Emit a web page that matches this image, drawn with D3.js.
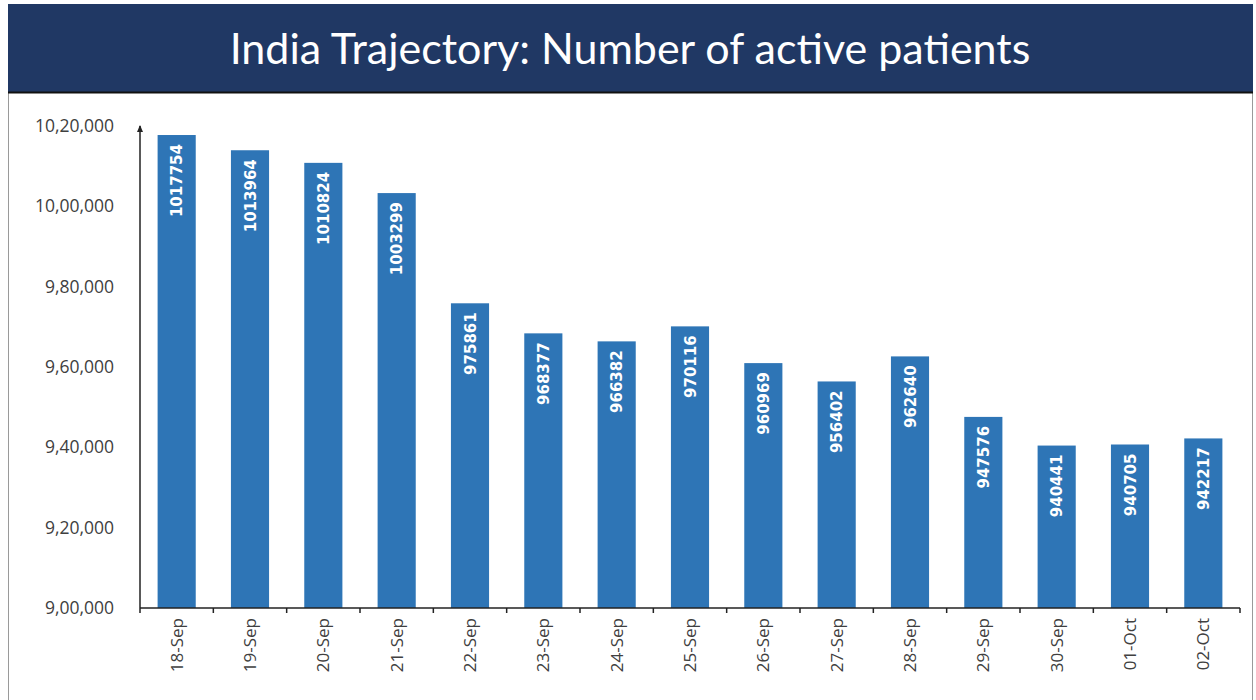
<!DOCTYPE html>
<html><head><meta charset="utf-8">
<script src="https://cdn.jsdelivr.net/npm/d3@7"></script>
<style>html,body{margin:0;padding:0;background:#fff;}</style>
</head><body>
<svg id="c" width="1256" height="700"></svg>
<script>
const categories = ["18-Sep","19-Sep","20-Sep","21-Sep","22-Sep","23-Sep","24-Sep","25-Sep","26-Sep","27-Sep","28-Sep","29-Sep","30-Sep","01-Oct","02-Oct"];
const activePatients = [1017754,1013964,1010824,1003299,975861,968377,966382,970116,960969,956402,962640,947576,940441,940705,942217];
const yTickValues = [900000,920000,940000,960000,980000,1000000,1020000];
const yTickLabels = ["9,00,000","9,20,000","9,40,000","9,60,000","9,80,000","10,00,000","10,20,000"];
const title = "India Trajectory: Number of active patients";

const svg = d3.select("#c");
// frame
svg.append("rect").attr("x",8.5).attr("y",4.5).attr("width",1244).attr("height",700).attr("fill","#fff").attr("stroke","#9a9a9a");
svg.append("rect").attr("x",8).attr("y",4).attr("width",1245).attr("height",88).attr("fill","#203864");
svg.append("line").attr("x1",8).attr("x2",1253).attr("y1",92.5).attr("y2",92.5).attr("stroke","#111").attr("stroke-width",2);
svg.append("text").attr("x",630).attr("y",64).attr("text-anchor","middle")
  .attr("font-family","Lato, 'Open Sans', sans-serif").attr("font-size",43).attr("fill","#fff")
  .text(title);

const x0 = 140, x1 = 1240, yBottom = 608, yTop = 126;
const x = d3.scaleBand().domain(categories).range([x0,x1]).paddingInner(0.48).paddingOuter(0.24);
const y = d3.scaleLinear().domain([900000,1020000]).range([yBottom,yTop]);

const g = svg.append("g");
g.selectAll("rect.bar").data(activePatients).enter().append("rect")
  .attr("class","bar")
  .attr("x",(d,i)=>x(categories[i]))
  .attr("width",x.bandwidth())
  .attr("y",d=>y(d))
  .attr("height",d=>yBottom-y(d))
  .attr("fill","#2e75b6");

g.selectAll("text.val").data(activePatients).enter().append("text")
  .attr("class","val")
  .attr("transform",(d,i)=>`translate(${x(categories[i])+x.bandwidth()/2+5.5},${y(d)+9}) rotate(-90)`)
  .attr("text-anchor","end")
  .attr("font-family","'DejaVu Sans', sans-serif").attr("font-weight","bold")
  .attr("font-size",15).attr("fill","#fff")
  .text(d=>d);

// y axis
const yAxis = d3.axisLeft(y).tickValues(yTickValues).tickSize(0).tickPadding(26)
  .tickFormat((d,i)=>yTickLabels[i]);
const ya = svg.append("g").attr("transform",`translate(${x0},0)`).call(yAxis);
ya.select(".domain").remove();
ya.selectAll("text").attr("font-family","'Open Sans', sans-serif").attr("font-size",17.5).attr("fill","#404040");
svg.append("line").attr("x1",x0).attr("x2",x0).attr("y1",yBottom).attr("y2",yTop).attr("stroke","#222").attr("stroke-width",1.5);
svg.append("path").attr("d",`M${x0-3},${yTop+6}L${x0},${yTop-1}L${x0+3},${yTop+6}Z`).attr("fill","#222");

// x axis
const xAxis = d3.axisBottom(x).tickSize(0).tickPadding(10);
const xa = svg.append("g").attr("transform",`translate(0,${yBottom})`).call(xAxis);
xa.select(".domain").remove();
xa.selectAll("text").attr("font-family","'Open Sans', sans-serif").attr("font-size",17).attr("fill","#404040")
  .attr("transform","rotate(-90)").attr("text-anchor","end").attr("dy","0.35em").attr("x",-10).attr("y",0);
svg.append("line").attr("x1",x0).attr("x2",x1).attr("y1",yBottom).attr("y2",yBottom).attr("stroke","#222").attr("stroke-width",1.5);
const step = x.step();
const bounds = d3.range(categories.length+1).map(i=>x0 + i*step);
svg.selectAll("line.xt").data(bounds).enter().append("line").attr("class","xt")
  .attr("x1",d=>d).attr("x2",d=>d).attr("y1",yBottom).attr("y2",yBottom+5).attr("stroke","#222").attr("stroke-width",1.5);
</script>
</body></html>
